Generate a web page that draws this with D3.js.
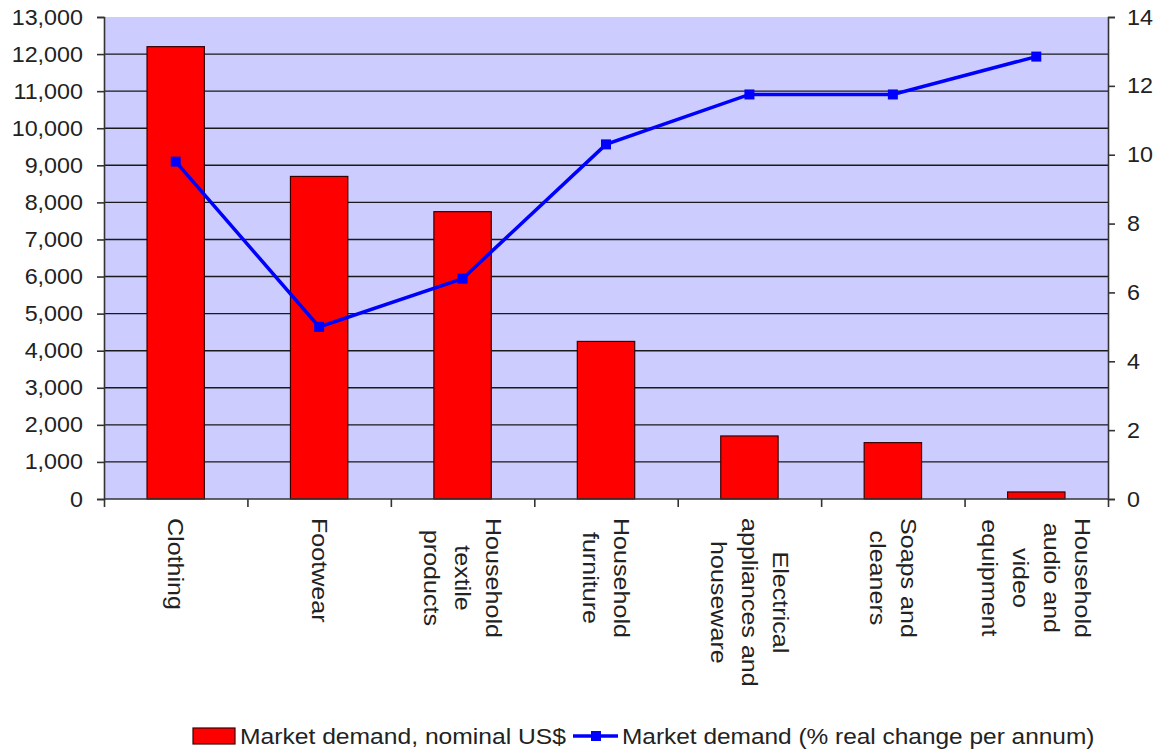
<!DOCTYPE html>
<html>
<head>
<meta charset="utf-8">
<script src="https://cdn.jsdelivr.net/npm/d3@7"></script>
<style>
  html, body { margin: 0; padding: 0; background: #ffffff; }
  svg text { font-family: "Liberation Sans", Arial, sans-serif; fill: #222; }
</style>
</head>
<body>
<svg id="chart" width="1160" height="752"></svg>
<script>
// Categories (each label broken into its display lines)
const categories = [
  "Clothing",
  "Footwear",
  "Household textile products",
  "Household furniture",
  "Electrical appliances and houseware",
  "Soaps and cleaners",
  "Household audio and video equipment"
];
const categoryLines = [
  ["Clothing"],
  ["Footwear"],
  ["Household", "textile", "products"],
  ["Household", "furniture"],
  ["Electrical", "appliances and", "houseware"],
  ["Soaps and", "cleaners"],
  ["Household", "audio and", "video", "equipment"]
];
// Market demand, nominal US$ (left axis)
const demandUSD = [12200, 8700, 7750, 4250, 1700, 1520, 190];
// Market demand, % real change per annum (right axis)
const demandChange = [9.8, 5.0, 6.4, 10.3, 11.75, 11.75, 12.85];
// Axis ticks
const leftTicks = d3.range(0, 13001, 1000);
const rightTicks = [0, 2, 4, 6, 8, 10, 12, 14];
const seriesNames = ["Market demand, nominal US$", "Market demand (% real change per annum)"];

const svg = d3.select("#chart");
const plot = { left: 104, right: 1108, top: 17, bottom: 499 };

// Widen text glyphs along the reading direction by a factor f
function widen(sel, f) {
  sel.each(function () {
    const len = this.getComputedTextLength();
    d3.select(this).attr("textLength", len * f).attr("lengthAdjust", "spacingAndGlyphs");
  });
  return sel;
}

const x = d3.scaleBand()
  .domain(categories)
  .range([plot.left, plot.right])
  .paddingInner(0.6)
  .paddingOuter(0.3);
const xEdge = d3.scaleLinear().domain([0, categories.length]).range([plot.left, plot.right]);
const yL = d3.scaleLinear().domain([0, 13000]).range([plot.bottom, plot.top]);
const yR = d3.scaleLinear().domain([0, 14]).range([plot.bottom, plot.top]);

// Plot background
svg.append("rect")
  .attr("x", plot.left).attr("y", plot.top)
  .attr("width", plot.right - plot.left).attr("height", plot.bottom - plot.top)
  .attr("fill", "#ccccff");

// Horizontal gridlines
svg.append("g").selectAll("line")
  .data(leftTicks.filter(v => v > 0 && v < 13000))
  .join("line")
  .attr("x1", plot.left).attr("x2", plot.right)
  .attr("y1", d => yL(d)).attr("y2", d => yL(d))
  .attr("stroke", "#1a1a1a").attr("stroke-width", 1.4);

// Bars
svg.append("g").selectAll("rect")
  .data(categories)
  .join("rect")
  .attr("x", d => x(d))
  .attr("width", x.bandwidth())
  .attr("y", (d, i) => yL(demandUSD[i]))
  .attr("height", (d, i) => yL(0) - yL(demandUSD[i]))
  .attr("fill", "#ff0000")
  .attr("stroke", "#3a0000").attr("stroke-width", 1.2);

// Left axis
const gL = svg.append("g")
  .attr("transform", `translate(${plot.left},0)`)
  .call(d3.axisLeft(yL).tickValues(leftTicks).tickFormat(d3.format(",")).tickSize(7).tickPadding(14));
// Right axis
const gR = svg.append("g")
  .attr("transform", `translate(${plot.right},0)`)
  .call(d3.axisRight(yR).tickValues(rightTicks).tickSize(7).tickPadding(12));
// Bottom axis with ticks at category boundaries
const gB = svg.append("g")
  .attr("transform", `translate(0,${plot.bottom})`)
  .call(d3.axisBottom(xEdge).tickValues(d3.range(0, categories.length + 1)).tickFormat("").tickSize(8));

[gL, gR, gB].forEach(g => {
  g.select(".domain").attr("stroke", "#333").attr("stroke-width", 1.6);
  g.selectAll(".tick line").attr("stroke", "#333").attr("stroke-width", 1.6);
  const t = g.selectAll(".tick text").attr("font-size", 22).attr("fill", "#222")
    .style("font-family", "'Liberation Sans', Arial, sans-serif");
  widen(t, 1.06);
});
gB.select(".domain").attr("d", `M${plot.left},0H${plot.right}`);

// Line series
const cx = d => x(d) + x.bandwidth() / 2;
svg.append("path")
  .datum(categories)
  .attr("fill", "none")
  .attr("stroke", "#0000ff").attr("stroke-width", 3.5)
  .attr("d", d3.line().x(d => cx(d)).y((d, i) => yR(demandChange[i])));
svg.append("g").selectAll("rect")
  .data(categories)
  .join("rect")
  .attr("x", d => cx(d) - 5).attr("y", (d, i) => yR(demandChange[i]) - 5)
  .attr("width", 10).attr("height", 10)
  .attr("fill", "#0000ff");

// Category labels, rotated, lines centred on each other
const lh = 31;
const labelTop = 518;
const labelWiden = 1.14;
categories.forEach((c, i) => {
  const lines = categoryLines[i];
  const n = lines.length;
  const g = svg.append("g")
    .attr("transform", `translate(${cx(c)},${labelTop}) rotate(90)`);
  const texts = lines.map((ln, j) => g.append("text")
    .attr("font-size", 22)
    .attr("dominant-baseline", "central")
    .attr("y", (j - (n - 1) / 2) * lh)
    .text(ln));
  const lens = texts.map(t => t.node().getComputedTextLength() * labelWiden);
  texts.forEach(t => widen(t, labelWiden));
  const maxLen = d3.max(lens);
  texts.forEach((t, j) => t.attr("x", (maxLen - lens[j]) / 2));
});

// Legend
const legY = 736;
svg.append("rect").attr("x", 193).attr("y", legY - 8).attr("width", 42).attr("height", 16)
  .attr("fill", "#ff0000").attr("stroke", "#3a0000").attr("stroke-width", 1.2);
widen(svg.append("text").attr("x", 240).attr("y", legY).attr("dominant-baseline", "central")
  .attr("font-size", 22).text(seriesNames[0]), 1.12);
svg.append("line").attr("x1", 573).attr("x2", 618).attr("y1", legY).attr("y2", legY)
  .attr("stroke", "#0000ff").attr("stroke-width", 3.5);
svg.append("rect").attr("x", 591).attr("y", legY - 5).attr("width", 10).attr("height", 10)
  .attr("fill", "#0000ff");
widen(svg.append("text").attr("x", 622).attr("y", legY).attr("dominant-baseline", "central")
  .attr("font-size", 22).text(seriesNames[1]), 1.11);
</script>
</body>
</html>
